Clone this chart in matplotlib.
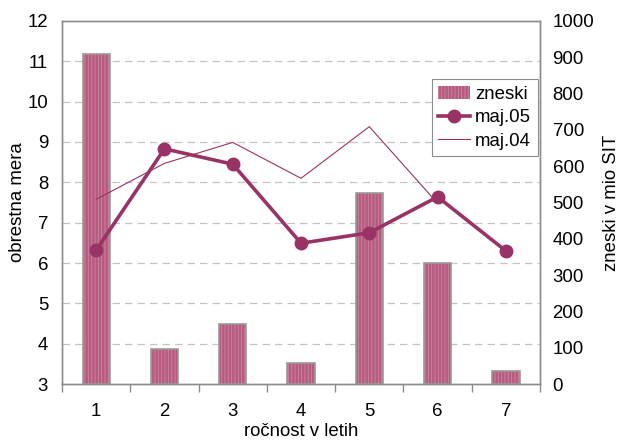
import matplotlib.pyplot as plt
import matplotlib.lines as mlines
import matplotlib.patches as mpatches

plt.rcParams['font.family'] = ['Liberation Sans', 'DejaVu Sans']
plt.rcParams['font.size'] = 13.4
plt.rcParams['hatch.linewidth'] = 0.6

# data
leta = [1, 2, 3, 4, 5, 6, 7]
zneski = [908, 97, 166, 58, 527, 334, 36]
maj05 = [6.32, 8.83, 8.45, 6.49, 6.75, 7.64, 6.30]
leta04 = [1, 2, 3, 4, 5, 6]
maj04 = [7.58, 8.47, 8.99, 8.10, 9.38, 7.48]

plum = '#993366'
bar_col = '#b85a80'
grey = '#8c8c8c'

fig = plt.figure(figsize=(6.19, 4.42), dpi=100)
ax = fig.add_axes([0.1002, 0.1312, 0.7722, 0.8213])
ax2 = ax.twinx()

# bars on the right axis, drawn behind the lines
ax.set_zorder(2)
ax.patch.set_visible(False)
ax2.set_zorder(1)

ax.set_xlim(0.5, 7.5)
ax.set_ylim(3, 12)
ax.set_yticks(range(3, 13))
ax2.set_ylim(0, 1000)
ax2.set_yticks(range(0, 1001, 100))

# grid of the left axis, kept behind the bars
for g in range(4, 12):
    ax2.plot([0.5, 7.5], [g, g], transform=ax.transData, color='#c4c4c4',
             lw=0.9, ls=(0, (6, 4)), zorder=0)

ax2.bar(leta, zneski, width=0.4, color=bar_col, edgecolor='#c98aa2',
        hatch='|||||', linewidth=0, zorder=2)
ax2.bar(leta, zneski, width=0.4, fill=False, edgecolor='#9a9a9a',
        linewidth=1.2, zorder=3)

ax.plot(leta04, maj04, color=plum, lw=0.8)
ax.plot(leta, maj05, color=plum, lw=2.6, marker='o', ms=9)

ax.set_xticks(leta)
ax.set_xticks([i + 0.5 for i in range(0, 8)], minor=True)
ax.tick_params(axis='x', which='major', length=0, pad=14)
ax.tick_params(axis='x', which='minor', length=6, color=grey, width=1)
ax.tick_params(axis='y', length=0, pad=10)
ax2.tick_params(axis='y', length=0, pad=9)

for a in (ax, ax2):
    for s in a.spines.values():
        s.set_color(grey)
        s.set_linewidth(1)

ax.set_xlabel('ročnost v letih', labelpad=2)
ax.set_ylabel('obrestna mera', labelpad=1)
ax2.set_ylabel('zneski v mio SIT', labelpad=6)

h_bar = mpatches.Patch(facecolor=bar_col, edgecolor='#c98aa2', hatch='|||||', linewidth=0)
h05 = mlines.Line2D([], [], color=plum, lw=2.6, marker='o', ms=9)
h04 = mlines.Line2D([], [], color=plum, lw=0.8)
leg = ax.legend([h_bar, h05, h04], ['zneski', 'maj.05', 'maj.04'],
                loc='upper left', bbox_to_anchor=(0.773, 0.84),
                fancybox=False, framealpha=1, edgecolor=grey,
                handlelength=1.7, handletextpad=0.3, borderpad=0.35,
                labelspacing=0.35, borderaxespad=0)
leg.get_frame().set_linewidth(0.8)

fig.savefig('out.png', dpi=100)
